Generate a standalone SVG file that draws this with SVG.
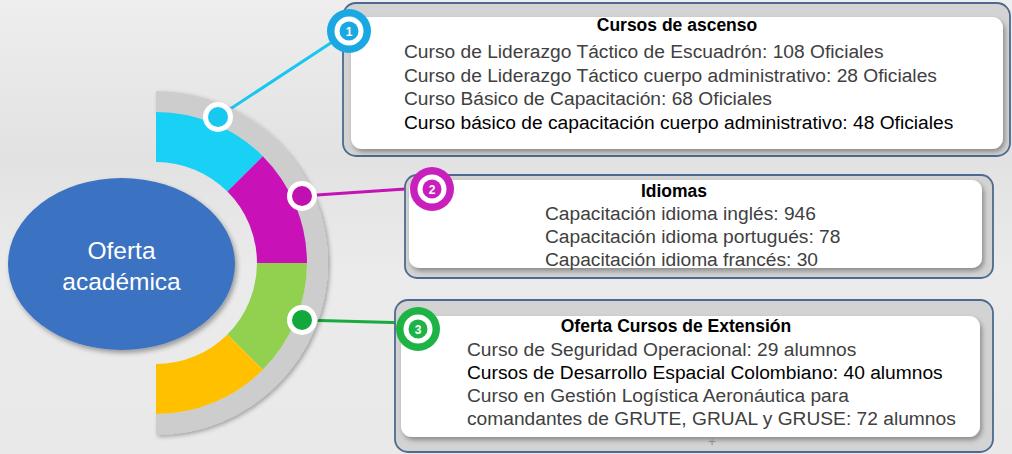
<svg xmlns="http://www.w3.org/2000/svg" width="1012" height="454" viewBox="0 0 1012 454">
  <defs>
    <linearGradient id="bg" x1="0" y1="0" x2="0" y2="1">
      <stop offset="0" stop-color="#eeeeee"/>
      <stop offset="0.35" stop-color="#e2e2e2"/>
      <stop offset="0.6" stop-color="#ebebeb"/>
      <stop offset="1" stop-color="#e9e9e9"/>
    </linearGradient>
    <filter id="shadow" x="-10%" y="-10%" width="125%" height="130%">
      <feDropShadow dx="2" dy="3" stdDeviation="2.5" flood-color="#000" flood-opacity="0.35"/>
    </filter>
    <filter id="soft" x="-10%" y="-10%" width="125%" height="130%">
      <feDropShadow dx="2" dy="2" stdDeviation="2" flood-color="#000" flood-opacity="0.3"/>
    </filter>
    <style>
      .frame { fill: #d3d3d3; stroke: #4d6a8e; stroke-width: 1.8; }
      .card { fill: #ffffff; filter: url(#shadow); }
      .title { font-family: "Liberation Sans", Arial, sans-serif; font-weight: bold; font-size: 17.5px; fill: #000; text-anchor: middle; }
      .body { font-family: "Liberation Sans", Arial, sans-serif; font-size: 19.2px; fill: #404040; }
      .dark { fill: #000; }
      .num { font-family: "Liberation Sans", Arial, sans-serif; font-weight: bold; font-size: 12px; fill: #fff; text-anchor: middle; }
      .conn { fill: none; stroke-width: 3; }
    </style>
  </defs>

  <rect x="0" y="0" width="1012" height="454" fill="url(#bg)"/>

  <!-- connectors -->
  <g id="connectors">
    <line class="conn" x1="218" y1="117" x2="349" y2="31" stroke="#1ac6ef"/>
    <line class="conn" x1="302" y1="196" x2="420" y2="188" stroke="#c412b6"/>
    <line class="conn" x1="302" y1="320" x2="410" y2="323" stroke="#19aa3e"/>
  </g>

  <!-- ring -->
  <g id="ring">
    <path d="M156,91 A172,172 0 0 1 156,435 L156,414 A151,151 0 0 0 156,112 Z" fill="#cdcdcd" filter="url(#soft)"/>
    <path d="M156,112 A151,151 0 0 1 262.8,156.2 L227.4,191.6 A101,101 0 0 0 156,162 Z" fill="#19d0f5"/>
    <path d="M262.8,156.2 A151,151 0 0 1 307,263 L257,263 A101,101 0 0 0 227.4,191.6 Z" fill="#c911b8"/>
    <path d="M307,263 A151,151 0 0 1 262.8,369.8 L227.4,334.4 A101,101 0 0 0 257,263 Z" fill="#92d050"/>
    <path d="M262.8,369.8 A151,151 0 0 1 156,414 L156,364 A101,101 0 0 0 227.4,334.4 Z" fill="#ffc000"/>
  </g>

  <g id="dot1"><circle cx="218" cy="117" r="15" fill="#fff"/><circle cx="218" cy="117" r="10" fill="#18c8ef"/></g>
  <g id="dot2"><circle cx="302" cy="196" r="15" fill="#fff"/><circle cx="302" cy="196" r="10" fill="#c010b0"/></g>
  <g id="dot3"><circle cx="302" cy="320" r="15" fill="#fff"/><circle cx="302" cy="320" r="10" fill="#12a83b"/></g>

  <!-- center -->
  <g id="center">
    <ellipse cx="121.5" cy="264" rx="113.5" ry="86" fill="#3a72c2" filter="url(#shadow)"/>
    <text x="121.5" y="259" font-family="Liberation Sans, Arial, sans-serif" font-size="24.5" fill="#fff" text-anchor="middle">Oferta</text>
    <text x="121.5" y="290" font-family="Liberation Sans, Arial, sans-serif" font-size="24.5" fill="#fff" text-anchor="middle">académica</text>
  </g>

  <!-- box 1 -->
  <g id="box1">
    <rect class="frame" x="343" y="3" width="667" height="153" rx="13"/>
    <rect class="card" x="351" y="17" width="652" height="132" rx="11"/>
    <text class="title" x="677" y="31">Cursos de ascenso</text>
    <text class="body" x="404" y="58">Curso de Liderazgo Táctico de Escuadrón: 108 Oficiales</text>
    <text class="body" x="404" y="82">Curso de Liderazgo Táctico cuerpo administrativo: 28 Oficiales</text>
    <text class="body" x="404" y="105">Curso Básico de Capacitación: 68 Oficiales</text>
    <text class="body dark" x="404" y="129">Curso básico de capacitación cuerpo administrativo: 48 Oficiales</text>
  </g>
  <g id="badge1">
    <circle cx="349" cy="31" r="22" fill="#1aa8e2"/>
    <circle cx="349" cy="31" r="14.5" fill="#fff"/>
    <circle cx="349" cy="31" r="9.5" fill="#1aa8e2"/>
    <text class="num" x="349" y="35.5">1</text>
  </g>

  <!-- box 2 -->
  <g id="box2">
    <rect class="frame" x="405" y="175" width="588" height="103" rx="12"/>
    <rect class="card" x="409" y="180" width="573" height="88" rx="10"/>
    <text class="title" x="674" y="197">Idiomas</text>
    <text class="body" x="545" y="220">Capacitación idioma inglés: 946</text>
    <text class="body" x="545" y="243">Capacitación idioma portugués: 78</text>
    <text class="body" x="545" y="266">Capacitación idioma francés: 30</text>
  </g>
  <g id="badge2">
    <circle cx="432" cy="189" r="22" fill="#c81fbd"/>
    <circle cx="432" cy="189" r="14.5" fill="#fff"/>
    <circle cx="432" cy="189" r="9.5" fill="#c81fbd"/>
    <text class="num" x="432" y="193.5">2</text>
  </g>

  <!-- box 3 -->
  <g id="box3">
    <rect class="frame" x="395" y="300" width="598" height="152" rx="13"/>
    <rect class="card" x="401" y="316" width="579" height="121" rx="11"/>
    <text class="title" x="676" y="332">Oferta Cursos de Extensión</text>
    <text class="body" x="467" y="356">Curso de Seguridad Operacional: 29 alumnos</text>
    <text class="body dark" x="467" y="379">Cursos de Desarrollo Espacial Colombiano: 40 alumnos</text>
    <text class="body" x="467" y="402">Curso en Gestión Logística Aeronáutica para</text>
    <text class="body" x="467" y="425">comandantes de GRUTE, GRUAL y GRUSE: 72 alumnos</text>
    <text x="712" y="446" font-family="Liberation Sans, Arial, sans-serif" font-size="13" fill="#8a8a8a" text-anchor="middle">+</text>
  </g>
  <g id="badge3">
    <circle cx="418" cy="329" r="22" fill="#1db445"/>
    <circle cx="418" cy="329" r="14.5" fill="#fff"/>
    <circle cx="418" cy="329" r="9.5" fill="#1db445"/>
    <text class="num" x="418" y="333.5">3</text>
  </g>
</svg>
